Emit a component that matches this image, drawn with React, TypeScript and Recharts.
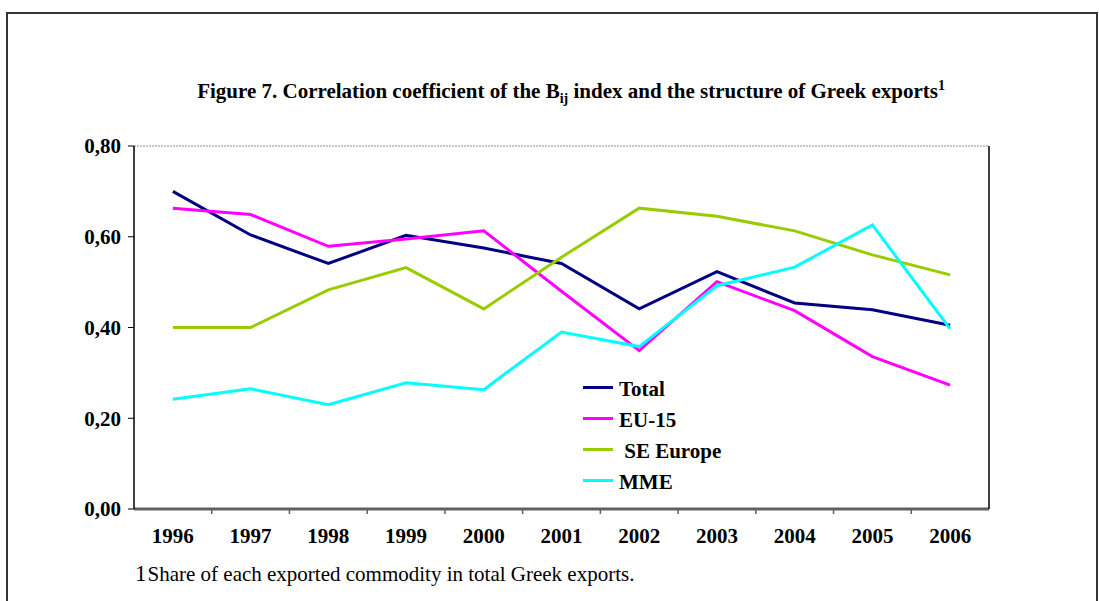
import { CartesianGrid, Line, LineChart, XAxis, YAxis } from "recharts";

const years = ["1996", "1997", "1998", "1999", "2000", "2001", "2002", "2003", "2004", "2005", "2006"];
const total = [0.70, 0.604, 0.541, 0.603, 0.575, 0.541, 0.441, 0.523, 0.454, 0.439, 0.405];
const eu15 = [0.663, 0.649, 0.579, 0.595, 0.613, 0.48, 0.349, 0.501, 0.437, 0.336, 0.273];
const seEurope = [0.40, 0.40, 0.483, 0.532, 0.441, 0.555, 0.663, 0.645, 0.613, 0.56, 0.516];
const mme = [0.242, 0.265, 0.23, 0.278, 0.263, 0.39, 0.358, 0.492, 0.533, 0.626, 0.397];
const yTicks = [0, 0.2, 0.4, 0.6, 0.8];

const series = [
  { key: "Total", name: "Total", values: total, color: "#000080" },
  { key: "EU15", name: "EU-15", values: eu15, color: "#ff00ff" },
  { key: "SE", name: " SE Europe", values: seEurope, color: "#99cc00" },
  { key: "MME", name: "MME", values: mme, color: "#00ffff" },
];

const data = years.map((year, i) => {
  const row: Record<string, string | number> = { year };
  series.forEach((s) => (row[s.key] = s.values[i]));
  return row;
});

const W = 1099;
const H = 601;
const PLOT_LEFT = 134;
const PLOT_RIGHT = 989;
const AXIS_W = 60;
const BAND = (PLOT_RIGHT - PLOT_LEFT) / years.length;
const SERIF = '"Liberation Serif", "Times New Roman", serif';

const fmt = (v: number) => v.toFixed(2).replace(".", ",");

function YearTick({ x, y, payload, index }: any) {
  return (
    <g>
      {index > 0 && (
        <line x1={x - BAND / 2} x2={x - BAND / 2} y1={y} y2={y + 5} stroke="#606060" strokeWidth={1.5} />
      )}
      <text x={x} y={y + 34} textAnchor="middle" fontFamily={SERIF} fontWeight="bold" fontSize={21} fill="#000">
        {payload.value}
      </text>
    </g>
  );
}

function LegendBox() {
  return (
    <div
      style={{
        position: "absolute",
        left: 552,
        top: 366,
        width: 310,
        padding: "6px 0",
        background: "#fff",
        fontFamily: SERIF,
        fontWeight: "bold",
        fontSize: 21,
      }}
    >
      {series.map((s) => (
        <div key={s.key} style={{ display: "flex", alignItems: "center", height: 31, paddingLeft: 31 }}>
          <span style={{ display: "inline-block", width: 30, height: 3, background: s.color, marginRight: 6 }} />
          <span style={{ whiteSpace: "pre", position: "relative", top: 2 }}>{s.name}</span>
        </div>
      ))}
    </div>
  );
}

export default function App() {
  return (
    <div style={{ position: "absolute", left: 0, top: 0, width: W, height: H, overflow: "hidden", background: "#fff" }}>
      <div
        style={{
          position: "absolute",
          left: 6,
          top: 12,
          width: 1088,
          height: 620,
          border: "2px solid #333",
        }}
      />
      <div
        style={{
          position: "absolute",
          left: 0,
          width: 1142,
          top: 78,
          textAlign: "center",
          fontFamily: SERIF,
          fontWeight: "bold",
          fontSize: 21,
        }}
      >
        Figure 7. Correlation coefficient of the B<sub style={{ fontSize: 14 }}>ij</sub> index and the structure of Greek
        exports<sup style={{ fontSize: 14 }}>1</sup>
      </div>
      <div style={{ position: "absolute", left: 0, top: 0 }}>
        <LineChart
          width={W}
          height={H}
          data={data}
          margin={{ top: 146, right: W - PLOT_RIGHT - AXIS_W, bottom: 52, left: PLOT_LEFT - AXIS_W }}
        >
          <CartesianGrid vertical={false} stroke="#8a8a8a" strokeDasharray="2 1" />
          <XAxis
            dataKey="year"
            axisLine={{ stroke: "#606060", strokeWidth: 3 }}
            tickLine={false}
            tickSize={0}
            tickMargin={0}
            height={40}
            interval={0}
            padding={{ left: BAND / 2, right: BAND / 2 }}
            tick={<YearTick />}
          />
          <YAxis
            yAxisId="left"
            domain={[0, 0.8]}
            ticks={yTicks}
            width={AXIS_W}
            tickFormatter={fmt}
            axisLine={{ stroke: "#000", strokeWidth: 1.5 }}
            tickLine={{ stroke: "#000" }}
            tickSize={6}
            tickMargin={7}
            tick={{ fill: "#000", fontFamily: SERIF, fontWeight: "bold", fontSize: 21 }}
          />
          <YAxis
            yAxisId="right"
            orientation="right"
            domain={[0, 0.8]}
            ticks={yTicks}
            width={AXIS_W}
            tickFormatter={fmt}
            axisLine={{ stroke: "#000", strokeWidth: 1.5 }}
            tickLine={{ stroke: "#000" }}
            tickSize={6}
            tickMargin={8}
            tick={{ fill: "#000", fontFamily: SERIF, fontWeight: "bold", fontSize: 21 }}
          />
          {series.map((s) => (
            <Line
              key={s.key}
              yAxisId="left"
              type="linear"
              dataKey={s.key}
              name={s.name}
              stroke={s.color}
              strokeWidth={3}
              dot={false}
              isAnimationActive={false}
            />
          ))}
        </LineChart>
      </div>
      <LegendBox />
      <div
        style={{
          position: "absolute",
          left: 135,
          top: 561,
          fontFamily: SERIF,
          fontSize: 21,
        }}
      >
        <span style={{ fontSize: 23, marginRight: 1 }}>1</span>Share of each exported commodity in total Greek exports.
      </div>
    </div>
  );
}
